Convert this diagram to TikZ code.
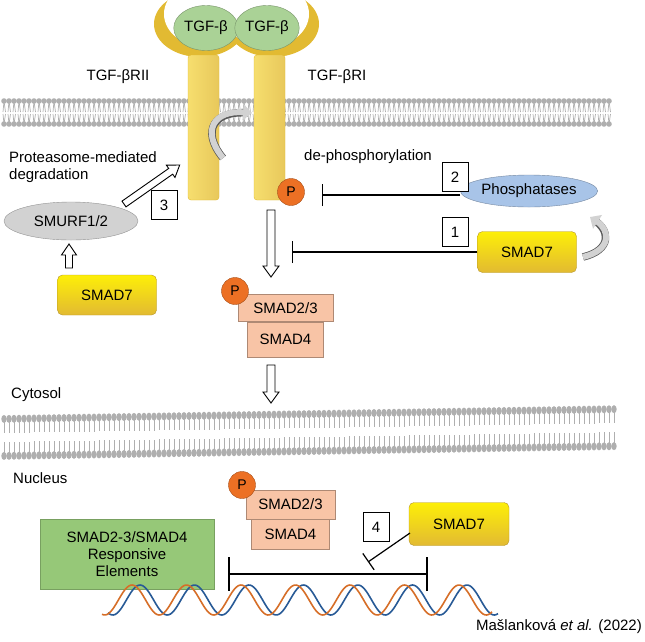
\documentclass[tikz,border=0pt]{standalone}
\usepackage{fontspec}
\setmainfont{Liberation Sans}
\usetikzlibrary{arrows.meta,shapes.geometric,positioning}
\definecolor{recfill}{RGB}{246,222,110}
\definecolor{recdark}{RGB}{226,186,50}
\definecolor{smadsev}{RGB}{250,214,20}
\definecolor{smadpink}{RGB}{248,196,166}
\definecolor{porange}{RGB}{236,112,36}
\definecolor{tgfgreen}{RGB}{170,210,150}
\definecolor{phosblue}{RGB}{168,196,232}
\definecolor{smurfgray}{RGB}{210,210,210}
\definecolor{boxgreen}{RGB}{150,200,120}
\definecolor{lipid}{RGB}{175,175,175}
\definecolor{dnaorange}{RGB}{214,110,40}
\definecolor{dnablue}{RGB}{40,90,150}
\tikzset{
  lbl/.style={font=\fontsize{15}{17}\selectfont, inner sep=1pt},
  receptor/.style={draw=recdark, left color=recfill, right color=recdark!80, rounded corners=3pt},
  smadseven/.style={draw=recdark!80!black, top color=yellow!60!smadsev, bottom color=recdark, rounded corners=5pt, font=\fontsize{15}{17}\selectfont},
  smadbox/.style={draw=smadpink!70!black, fill=smadpink, font=\fontsize{15}{17}\selectfont, inner sep=0pt},
  pcircle/.style={circle, draw=porange!70!black, fill=porange, minimum size=27pt, inner sep=0pt, font=\fontsize{14}{16}\selectfont},
  numbox/.style={draw, fill=white, minimum width=26pt, minimum height=29pt, font=\fontsize{15}{17}\selectfont, inner sep=0pt},
  inhib/.style={line width=1.2pt, -{Bar[width=22pt,line width=1.2pt]}},
  grayturn/.style={line width=6pt, gray!35, -{Triangle[length=9pt,width=16pt]}},
}
% block arrow: start, angle, length, half shaft width
\newcommand\blockarr[4]{%
  \begin{scope}[shift={#1}, rotate=#2]
    \draw[fill=white, line width=0.9pt] (0,-#4) -- (#3-11,-#4) -- (#3-11,-#4-4) -- (#3,0) -- (#3-11,#4+4) -- (#3-11,#4) -- (0,#4) -- cycle;
  \end{scope}}
\begin{document}
\begin{tikzpicture}[x=1pt,y=-1pt]
\useasboundingbox (0,0) rectangle (645,641);

%plasma membrane
\foreach \x in {4,9,...,612} {
  \draw[lipid, line width=0.7pt] (\x,101) -- (\x-1,112) (\x,101) -- (\x+1.5,112);
  \draw[lipid, line width=0.7pt] (\x,124) -- (\x-1,114) (\x,124) -- (\x+1.5,114);
  \fill[lipid] (\x,101) circle (2.8pt) (\x,124) circle (2.8pt);
}
%nuclear membrane
\foreach \x in {4,9,...,618} {
  \pgfmathsetmacro\dy{-0.016*\x}
  \draw[lipid, line width=0.8pt] (\x,419+\dy) -- (\x,433+\dy) (\x,456+\dy) -- (\x,442+\dy);
  \fill[lipid] (\x,419+\dy) ellipse (2.7pt and 4pt) (\x,456+\dy) ellipse (2.7pt and 4pt);
}

%ligand cups
\fill[recdark] (200,24) ellipse (46 and 33);
\fill[white] (206,14) ellipse (42 and 33);
\fill[recdark] (273,24) ellipse (46 and 33);
\fill[white] (267,14) ellipse (42 and 33);

%receptors
\draw[receptor] (188,55) rectangle (219,200);
\draw[receptor] (254,55) rectangle (285,200);
\node[ellipse, draw=tgfgreen!70!black, fill=tgfgreen, minimum width=60pt, minimum height=45pt, inner sep=0pt, lbl] (tgfa) at (206,28) {TGF-β};
\node[ellipse, draw=tgfgreen!70!black, fill=tgfgreen, minimum width=60pt, minimum height=45pt, inner sep=0pt, lbl] (tgfb) at (267,28) {TGF-β};
\node[lbl] (r2) at (118,77) {TGF-βRII};
\node[lbl] (r1) at (337,77) {TGF-βRI};

%trans-phosphorylation
\draw[gray!70!black, line width=7.5pt] (223,158) .. controls (200,130) and (215,110) .. (248,113);
\draw[grayturn] (223,158) .. controls (200,130) and (215,110) .. (252,113);

%right side
\node[pcircle] (p1) at (291,192) {P};
\node[lbl, anchor=west] (dephos) at (303,157) {de-phosphorylation};
\node[ellipse, draw=phosblue!70!black, fill=phosblue, minimum width=120pt, minimum height=32pt, inner sep=0pt, lbl] (phos) at (529,191) {Phosphatases};
\node[numbox] (n2) at (455,177) {2};
\coordinate (b2) at (322,195);
\draw[inhib] (phos.west |- b2) -- (b2);
\node[smadseven, minimum width=99pt, minimum height=41pt] (s7r) at (527,252) {SMAD7};
\node[numbox] (n1) at (455,232) {1};
\coordinate (b1) at (292,252);
\draw[inhib] (s7r.west) -- (b1);
\draw[gray!70!black, line width=7.5pt] (583,257) .. controls (612,250) and (610,230) .. (594,220);
\draw[grayturn] (583,257) .. controls (612,250) and (610,230) .. (590,217);

%left side
\node[lbl, anchor=west, align=left] (prot) at (8,167) {Proteasome-mediated\\degradation};
\node[ellipse, draw=smurfgray!70!black, fill=smurfgray, minimum width=134pt, minimum height=38pt, lbl] (smurf) at (71,221) {SMURF1/2};
\node[numbox] (n3) at (164,205) {3};
\blockarr{(124,204)}{35}{68}{3.5}
\node[smadseven, minimum width=99pt, minimum height=40pt] (s7l) at (107,295) {SMAD7};
\blockarr{(69,268)}{90}{24}{3.5}

%cytoplasmic complex
\blockarr{(271,210)}{-90}{67}{4}
\node[smadbox, minimum width=95pt, minimum height=27pt] (c23) at (285.5,308) {SMAD2/3};
\node[smadbox, minimum width=76pt, minimum height=35pt, below=0pt of c23] (c4) {SMAD4};
\node[pcircle] (p2) at (235,291) {P};
\blockarr{(271,365)}{-90}{38}{4}
\node[lbl, anchor=west] (cyto) at (10,395) {Cytosol};
\node[lbl, anchor=west] (nuc) at (12,478) {Nucleus};

%nuclear complex
\node[smadbox, minimum width=89pt, minimum height=29pt] (n23) at (290.5,504.5) {SMAD2/3};
\node[smadbox, minimum width=78pt, minimum height=30pt, below=0pt of n23] (n4) {SMAD4};
\node[pcircle] (p3) at (242,485) {P};
\node[draw=boxgreen!80!black, fill=boxgreen, minimum width=174pt, minimum height=70pt, align=center, lbl] (sre) at (127,554) {SMAD2-3/SMAD4\\Responsive\\Elements};

%DNA
\draw[dnablue, line width=1.6pt] plot[domain=108:498, samples=220] (\x, {600-15*cos((\x-140)/54.5*360)});
\draw[dnaorange, line width=1.6pt] plot[domain=102:492, samples=220] (\x, {600-15*cos((\x-132)/54.5*360)});

%bracket
\coordinate (bl) at (229,574);
\coordinate (br) at (427,574);
\draw[line width=1.2pt] (229,557) -- (229,591) (427,557) -- (427,591);
\draw[line width=1.2pt] (bl) -- (br);
\node[smadseven, minimum width=100pt, minimum height=43pt] (s7n) at (459,524) {SMAD7};
\node[numbox] (n4b) at (376,527) {4};
\coordinate (b4) at (368,562);
\draw[line width=1.2pt, -{Bar[width=20pt,line width=1.2pt]}] (410,533) -- (b4);

\node[lbl, anchor=east] (cite) at (643,627) {Mašlanková \textit{et al.} (2022)};
\end{tikzpicture}
\end{document}
